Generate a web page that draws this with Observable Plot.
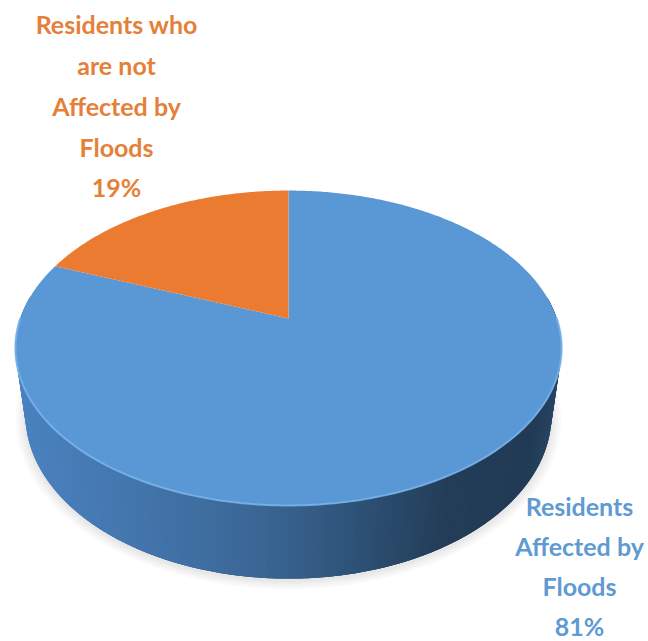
<!DOCTYPE html>
<html><head><meta charset="utf-8">
<script src="https://cdn.jsdelivr.net/npm/d3@7"></script>
<script src="https://cdn.jsdelivr.net/npm/@observablehq/plot@0.6"></script>
<style>body{margin:0;background:#fff;}#chart{width:648px;height:641px;}</style>
</head><body><div id="chart"></div>
<script>
// ---- data ----
const categories = ["Residents Affected by Floods", "Residents who are not Affected by Floods"];
const values = [81, 19];
const labels = ["Residents\nAffected by\nFloods", "Residents who\nare not\nAffected by\nFloods"];
const colors = ["#5A97D5", "#EB7B31"];
const labelColors = ["#5F9AD2", "#E58038"];
// side-wall shading, left to right
const wallShades = ["#4A82C0", "#4273A9", "#3A6694", "#2D5176", "#233C57", "#213A55", "#284665"];

// ---- 3D view (perspective of a tilted disk) ----
const view = {f: 1230, fx: 0.972, D: 4.457, elev: 33.4 * Math.PI / 180, H: 0.3};
function project(u, v, h) {
  const s = Math.sin(view.elev), c = Math.cos(view.elev);
  const Z = view.D - v * c - h * s;
  return [view.fx * view.f * u / Z, view.f * (v * s - h * c) / Z];
}
const rimPoint = (a, h) => project(Math.sin(a), -Math.cos(a), h);

const data = categories.map((name, i) => ({name, value: values[i], color: colors[i]}));
const arcs = d3.pie().sort(null).value(d => d.value)(data);

// wedge polygons on the top face
const wedges = arcs.map(a => {
  const pts = [{x: 0, y: 0}];
  const n = Math.max(2, Math.ceil((a.endAngle - a.startAngle) / 0.01));
  for (let k = 0; k <= n; k++) {
    const t = a.startAngle + (a.endAngle - a.startAngle) * k / n;
    const [x, y] = rimPoint(t, 0);
    pts.push({x, y});
  }
  return {pts, color: a.data.color};
});

// side wall as thin overlapping bands over the front half
const wallQuads = [];
const NQ = 200, t0 = Math.PI / 2 - 0.15, t1 = 3 * Math.PI / 2 + 0.15;
const step = (t1 - t0) / NQ;
for (let k = 0; k < NQ; k++) {
  const ta = t0 + step * k, tb = Math.min(t1, ta + step * 3);
  const xm = (rimPoint(ta, 0)[0] + rimPoint(ta + step, 0)[0]) / 2;
  const n = 4;
  for (let j = 0; j <= n; j++) { const [x, y] = rimPoint(ta + (tb - ta) * j / n, 0); wallQuads.push({x, y, k, xm}); }
  for (let j = n; j >= 0; j--) { const [x, y] = rimPoint(ta + (tb - ta) * j / n, -view.H); wallQuads.push({x, y, k, xm}); }
}
const xs = wallQuads.map(d => d.xm);
const xmin = d3.min(xs), xmax = d3.max(xs);
const shadeDomain = [0, 0.25, 0.45, 0.63, 0.8, 0.95, 1].map(f => xmin + (xmax - xmin) * f);

// soft shadow under the pie
const shadowLayers = [];
[1.035, 1.025, 1.015, 1.006].forEach((sc, j) => {
  for (let k = 0; k <= 180; k++) {
    const t = t0 + (t1 - t0) * k / 180;
    const [x, y] = project(Math.sin(t) * sc, -Math.cos(t) * sc, -view.H);
    shadowLayers.push({x, y: y + 2, j});
  }
});

// front rim highlight
const rim = [];
for (let k = 0; k <= 200; k++) {
  const t = Math.PI / 2 + 1.0 * Math.PI * k / 200;
  const [x, y] = rimPoint(t, 0);
  rim.push({x, y});
}

const chart = Plot.plot({
  width: 648, height: 641,
  margin: 0,
  x: {domain: [-288, 360], range: [0, 648], axis: null},
  y: {domain: [-318, 323], range: [0, 641], axis: null},
  color: {type: "linear", domain: shadeDomain, range: wallShades, legend: false},
  style: {fontFamily: "Lato, sans-serif", background: "white", overflow: "visible"},
  marks: [
    Plot.line(shadowLayers, {x: "x", y: "y", z: "j", fill: "#000", fillOpacity: 0.025, stroke: "none"}),
    Plot.line(wallQuads, {x: "x", y: "y", z: "k", fill: "xm", stroke: "none"}),
    ...wedges.map(w => Plot.line(w.pts, {x: "x", y: "y", fill: w.color, stroke: "none"})),
    Plot.line(rim, {x: "x", y: "y", stroke: "#78B2EA", strokeWidth: 2, strokeOpacity: 0.9}),
    Plot.text([labels[1] + "\n" + values[1] + "%"], {
      frameAnchor: "top-left", dx: 116, dy: 5, lineAnchor: "top", textAnchor: "middle",
      fontSize: 25, fontWeight: "bold", lineHeight: 1.63, fill: labelColors[1]
    }),
    Plot.text([labels[0] + "\n" + values[0] + "%"], {
      frameAnchor: "top-left", dx: 579, dy: 487, lineAnchor: "top", textAnchor: "middle",
      fontSize: 25, fontWeight: "bold", lineHeight: 1.6, fill: labelColors[0]
    })
  ]
});
document.getElementById("chart").append(chart);
</script>
</body></html>
